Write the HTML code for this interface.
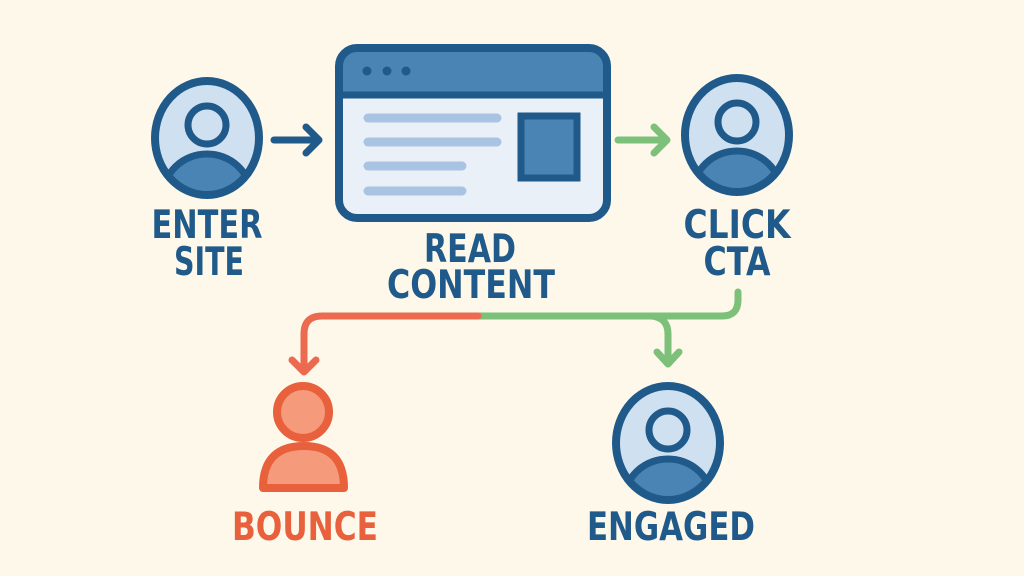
<!DOCTYPE html>
<html><head><meta charset="utf-8"><style>
html,body{margin:0;padding:0;background:#fdf8ea;}
svg{display:block}
text{font-family:"DejaVu Sans","Liberation Sans",sans-serif;font-weight:bold;text-anchor:middle;font-size:39px;}
</style></head><body>
<svg width="1024" height="576" viewBox="0 0 1024 576" xmlns="http://www.w3.org/2000/svg">
<defs>
<clipPath id="c1"><ellipse cx="207" cy="138" rx="51" ry="56"/></clipPath>
<clipPath id="c2"><ellipse cx="737" cy="135" rx="51" ry="56"/></clipPath>
<clipPath id="c3"><ellipse cx="668" cy="443" rx="51" ry="56"/></clipPath>
</defs>
<rect width="1024" height="576" fill="#fdf8ea"/>
<!-- Enter site -->
<ellipse cx="207" cy="138" rx="52" ry="57" fill="#cfe0f0"/>
<g clip-path="url(#c1)"><ellipse cx="207" cy="196" rx="44" ry="42" fill="#4a84b4" stroke="#1f5a8a" stroke-width="7"/></g>
<circle cx="207" cy="125" r="19" fill="#cfe0f0" stroke="#1f5a8a" stroke-width="7"/>
<ellipse cx="207" cy="138" rx="52" ry="57" fill="none" stroke="#1f5a8a" stroke-width="8"/>
<text x="207" y="238" fill="#1f5a8a" textLength="111" lengthAdjust="spacingAndGlyphs">ENTER</text>
<text x="209" y="275" fill="#1f5a8a" textLength="70" lengthAdjust="spacingAndGlyphs">SITE</text>
<!-- arrow 1 -->
<path d="M274 140 H318 M306 127 L319 140 L306 153" fill="none" stroke="#1f5a8a" stroke-width="7" stroke-linecap="round" stroke-linejoin="round"/>
<!-- browser -->
<rect x="339" y="48" width="268" height="170" rx="18" fill="#e9f0f8"/>
<path d="M357 48 H589 Q607 48 607 66 V95 H339 V66 Q339 48 357 48 Z" fill="#4a84b4"/>
<line x1="339" y1="95" x2="607" y2="95" stroke="#1f5a8a" stroke-width="7"/>
<rect x="339" y="48" width="268" height="170" rx="18" fill="none" stroke="#1f5a8a" stroke-width="8"/>
<circle cx="367" cy="71" r="4.5" fill="#1f5a8a"/><circle cx="387" cy="71" r="4.5" fill="#1f5a8a"/><circle cx="406" cy="71" r="4.5" fill="#1f5a8a"/>
<g stroke="#a9c4e2" stroke-width="9" stroke-linecap="round">
<line x1="368" y1="118" x2="497" y2="118"/><line x1="368" y1="142" x2="497" y2="142"/>
<line x1="368" y1="166" x2="462" y2="166"/><line x1="368" y1="191" x2="462" y2="191"/>
</g>
<rect x="521" y="116" width="56" height="62" fill="#4a84b4" stroke="#1f5a8a" stroke-width="7"/>
<text x="470" y="262" fill="#1f5a8a" textLength="92" lengthAdjust="spacingAndGlyphs">READ</text>
<text x="471" y="298" fill="#1f5a8a" textLength="168" lengthAdjust="spacingAndGlyphs">CONTENT</text>
<!-- arrow 2 -->
<path d="M618 140 H665 M654 127 L667 140 L654 153" fill="none" stroke="#7cc07a" stroke-width="7" stroke-linecap="round" stroke-linejoin="round"/>
<!-- Click CTA -->
<ellipse cx="737" cy="135" rx="52" ry="57" fill="#cfe0f0"/>
<g clip-path="url(#c2)"><ellipse cx="737" cy="193" rx="44" ry="42" fill="#4a84b4" stroke="#1f5a8a" stroke-width="7"/></g>
<circle cx="737" cy="122" r="19" fill="#cfe0f0" stroke="#1f5a8a" stroke-width="7"/>
<ellipse cx="737" cy="135" rx="52" ry="57" fill="none" stroke="#1f5a8a" stroke-width="8"/>
<text x="737" y="238" fill="#1f5a8a" textLength="107" lengthAdjust="spacingAndGlyphs">CLICK</text>
<text x="737" y="275" fill="#1f5a8a" textLength="67" lengthAdjust="spacingAndGlyphs">CTA</text>
<!-- connectors -->
<path d="M738 292 V300 Q738 316 722 316 H478" fill="none" stroke="#7cc07a" stroke-width="7" stroke-linecap="round"/>
<path d="M652 316 Q668 318 668 334 V364 M657 352 L668 364 L679 352" fill="none" stroke="#7cc07a" stroke-width="7" stroke-linecap="round" stroke-linejoin="round"/>
<path d="M478 316 H322 Q304 316 304 334 V372 M292 360 L304 372 L316 360" fill="none" stroke="#ec6a4f" stroke-width="7" stroke-linecap="round" stroke-linejoin="round"/>
<!-- Bounce -->
<path d="M263 488 Q263 446 304 446 Q344 446 344 488 Z" fill="#f59a7a" stroke="#e8603c" stroke-width="8" stroke-linejoin="round"/>
<circle cx="303" cy="412" r="26" fill="#f59a7a" stroke="#e8603c" stroke-width="8"/>
<text x="305" y="540" fill="#e8603c" textLength="146" lengthAdjust="spacingAndGlyphs">BOUNCE</text>
<!-- Engaged -->
<ellipse cx="668" cy="443" rx="52" ry="57" fill="#cfe0f0"/>
<g clip-path="url(#c3)"><ellipse cx="668" cy="501" rx="44" ry="42" fill="#4a84b4" stroke="#1f5a8a" stroke-width="7"/></g>
<circle cx="668" cy="430" r="19" fill="#cfe0f0" stroke="#1f5a8a" stroke-width="7"/>
<ellipse cx="668" cy="443" rx="52" ry="57" fill="none" stroke="#1f5a8a" stroke-width="8"/>
<text x="671" y="540" fill="#1f5a8a" textLength="168" lengthAdjust="spacingAndGlyphs">ENGAGED</text>
</svg>
</body></html>
